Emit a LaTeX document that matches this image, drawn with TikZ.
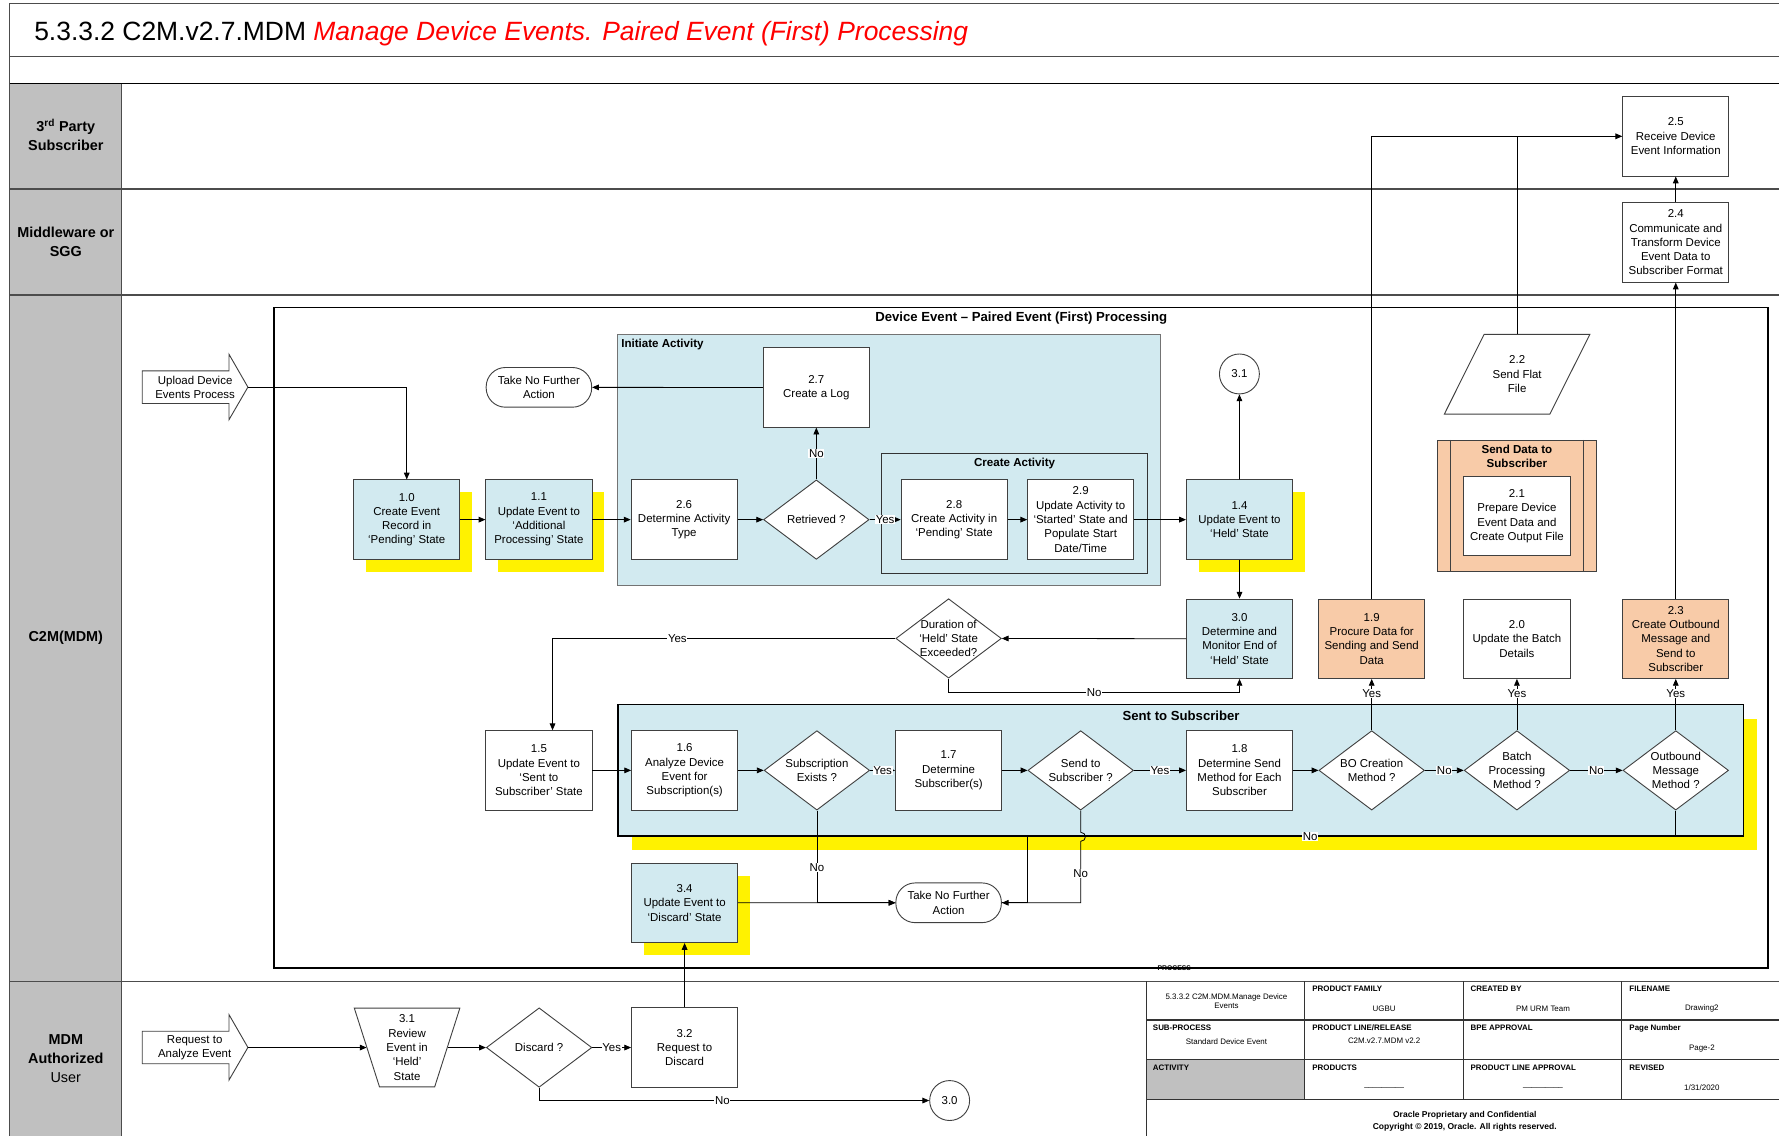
\documentclass[tikz,border=0pt]{standalone}
\usepackage{fontspec}
\setmainfont{Liberation Sans}
\usetikzlibrary{arrows.meta,shapes.geometric,shadows,calc}
\definecolor{lblue}{RGB}{210,234,240}
\definecolor{peach}{RGB}{248,203,168}
\definecolor{lanegray}{RGB}{192,192,192}
\definecolor{edge}{RGB}{64,64,64}
\newcommand\bxf{\fontsize{10.1}{12.6}\selectfont}
\newcommand\tbf{\fontsize{7}{8.6}\selectfont}
\begin{document}
\begin{tikzpicture}[x=1pt,y=-1pt,
  box/.style={draw=edge, line width=0.8pt, fill=white, minimum width=93.5pt, minimum height=70pt, align=center, inner sep=1pt, font=\bxf},
  bluebox/.style={box, fill=lblue},
  ybox/.style={bluebox, general shadow={fill=yellow, shadow xshift=11pt, shadow yshift=-11pt}},
  obox/.style={box, fill=peach},
  dia/.style={diamond, draw=edge, line width=0.8pt, fill=white, minimum width=93pt, minimum height=70pt, inner sep=0pt},
  dtext/.style={font=\bxf, align=center, inner sep=0pt},
  term/.style={draw=edge, line width=0.8pt, fill=white, rounded corners=17pt, minimum width=93pt, minimum height=35pt, align=center, font=\bxf, inner sep=1pt},
  circ/.style={circle, draw=edge, line width=0.8pt, fill=white, minimum size=35.2pt, inner sep=0pt, font=\bxf},
  arr/.style={draw=black, line width=0.7pt, -{Triangle[length=6pt,width=5pt]}},
  con/.style={draw=black, line width=0.7pt},
  lbl/.style={fill=white, inner sep=0.6pt, font=\bxf},
  grp/.style={draw, line width=0.8pt, fill=lblue, inner sep=0pt},
  gtitle/.style={font=\bfseries\fontsize{10.2}{12.4}\selectfont, inner sep=0pt},
  lane/.style={font=\bfseries\fontsize{12.7}{17}\selectfont, align=center},
  tb/.style={font=\bfseries\tbf, anchor=north west, inner sep=0pt},
  tv/.style={font=\tbf, align=center, inner sep=0pt},
  sline/.style={draw=black!70, line width=1.2pt},
]
\useasboundingbox (0,0) rectangle (1568,1001);
\fill[white] (0,0) rectangle (1568,1001);

% ---------- swimlane frame ----------
\fill[lanegray] (8.5,73.4) rectangle (107.2,1001);
\draw[draw=black!70, line width=0.9pt] (8.5,1001) -- (8.5,3.5) -- (1568,3.5);
\draw[draw=black!70, line width=0.8pt] (107.2,73.4) -- (107.2,1001);
\draw[sline] (8.5,50) -- (1568,50);
\draw[draw=black, line width=0.8pt] (8.5,73.4) -- (1568,73.4);
\draw[sline] (8.5,166.5) -- (1568,166.5);
\draw[sline] (8.5,260) -- (1568,260);
\draw[sline] (8.5,865) -- (1568,865);

\node[anchor=base west, inner sep=0pt, font=\fontsize{23.3}{28}\selectfont] (title) at (30,35.5)
  {5.3.3.2 C2M.v2.7.MDM \textcolor{red}{\itshape Manage Device Events. Paired Event (First) Processing}};

\node[lane] (l1) at (58,119) {3\textsuperscript{rd} Party\\Subscriber};
\node[lane] (l2) at (58,213) {Middleware or\\SGG};
\node[lane] (l3) at (58,562) {C2M(MDM)};
\node[lane] (l4) at (58,933) {MDM\\Authorized\\\mdseries User};

% ---------- groups ----------
\node[draw=black, line width=1.3pt, minimum width=1316.4pt, minimum height=581.8pt, inner sep=0pt] (frame) at (899.9,562.1) {};
\node[font=\bfseries\fontsize{11.6}{14}\selectfont, inner sep=0pt] (frameT) at (900.1,280.6) {Device Event – Paired Event (First) Processing};

\node[grp, draw=black!55, minimum width=477.9pt, minimum height=221.5pt] (gInit) at (783.55,405.45) {};
\node[gtitle, anchor=west] (gInitT) at (547.4,303.5) {Initiate Activity};
\node[grp, draw=black!80, minimum width=233.7pt, minimum height=105.7pt] (gCreate) at (894.15,452.45) {};
\node[gtitle] (gCreateT) at (894.3,408.4) {Create Activity};

\node[grp, line width=1.3pt, minimum width=991.8pt, minimum height=116.1pt,
      general shadow={fill=yellow, shadow xshift=12pt, shadow yshift=-12.5pt}] (gSent) at (1040.6,678.85) {};
\node[font=\bfseries\fontsize{11.6}{14}\selectfont, inner sep=0pt] (gSentT) at (1041,630.6) {Sent to Subscriber};

\node[draw=edge, line width=0.8pt, fill=peach, minimum width=140pt, minimum height=116pt, inner sep=0pt] (gSend) at (1337,446) {};
\draw[draw=edge, line width=0.8pt] ($(gSend.north west)+(12,0)$) -- ($(gSend.south west)+(12,0)$);
\draw[draw=edge, line width=0.8pt] ($(gSend.north east)+(-12,0)$) -- ($(gSend.south east)+(-12,0)$);
\node[gtitle, align=center] (gSendT) at (1337,402) {Send Data to\\Subscriber};

% ---------- start shapes ----------
\draw[draw=edge, line width=0.8pt, fill=white] (125.4,326.9) -- (201.8,326.9) -- (201.8,312.2) -- (218.5,341.2) -- (201.8,370) -- (201.8,355.6) -- (125.4,355.6) -- cycle;
\node[dtext] (upl) at (172,341.2) {Upload Device\\Events Process};
\coordinate (upltip) at (218.5,341.2);

\draw[draw=edge, line width=0.8pt, fill=white] (125.4,908.9) -- (201.8,908.9) -- (201.8,894.2) -- (218.5,923.2) -- (201.8,952) -- (201.8,937.6) -- (125.4,937.6) -- cycle;
\node[dtext] (req) at (171.6,923.2) {Request to\\Analyze Event};
\coordinate (reqtip) at (218.5,923.2);

% ---------- row 1 ----------
\node[ybox] (n10) at (358.5,458) {1.0\\Create Event\\Record in\\‘Pending’ State};
\node[ybox] (n11) at (475,458) {1.1\\Update Event to\\‘Additional\\Processing’ State};
\node[box] (n26) at (603,458) {2.6\\Determine Activity\\Type};
\node[dia] (dRet) at (719.5,458) {};
\node[dtext] (dRetT) at (dRet) {Retrieved ?};
\node[box] (n27) at (719.5,341.5) {2.7\\Create a Log};
\node[term] (tnfa1) at (475,341.4) {Take No Further\\Action};
\node[box] (n28) at (841,458) {2.8\\Create Activity in\\‘Pending’ State};
\node[box] (n29) at (952.5,458) {2.9\\Update Activity to\\‘Started’ State and\\Populate Start\\Date/Time};
\node[ybox] (n14) at (1092.5,458) {1.4\\Update Event to\\‘Held’ State};
\node[circ] (c31) at (1092.4,329.6) {3.1};

% ---------- row 2 ----------
\node[bluebox] (n30) at (1092.5,563) {3.0\\Determine and\\Monitor End of\\‘Held’ State};
\node[dia] (dDur) at (836.1,562.7) {};
\node[dtext] (dDurT) at (dDur) {Duration of\\‘Held’ State\\Exceeded?};
\node[obox] (n19) at (1209,563) {1.9\\Procure Data for\\Sending and Send\\Data};
\node[box] (n20) at (1337,563) {2.0\\Update the Batch\\Details};
\node[obox] (n23) at (1477,563) {2.3\\Create Outbound\\Message and\\Send to\\Subscriber};

\node[box] (n21) at (1337,455) {2.1\\Prepare Device\\Event Data and\\Create Output File};

\draw[draw=edge, line width=0.8pt, fill=white] (1308.1,294.7) -- (1401.3,294.7) -- (1366,365) -- (1273,365) -- cycle;
\node[dtext, minimum width=60pt, minimum height=70.3pt] (p22) at (1337.2,329.85) {2.2\\Send Flat\\File};

\node[box] (n24) at (1477,213.65) {2.4\\Communicate and\\Transform Device\\Event Data to\\Subscriber Format};
\node[box] (n25) at (1477,120.15) {2.5\\Receive Device\\Event Information};

% ---------- row 3 ----------
\node[box] (n15) at (475,679) {1.5\\Update Event to\\‘Sent to\\Subscriber’ State};
\node[box] (n16) at (603.4,679) {1.6\\Analyze Device\\Event for\\Subscription(s)};
\node[dia] (dSub) at (720,679) {};
\node[dtext] (dSubT) at (dSub) {Subscription\\Exists ?};
\node[box] (n17) at (836.1,679) {1.7\\Determine\\Subscriber(s)};
\node[dia] (dSend) at (952.5,679) {};
\node[dtext] (dSendT) at (dSend) {Send to\\Subscriber ?};
\node[box] (n18) at (1092.5,679) {1.8\\Determine Send\\Method for Each\\Subscriber};
\node[dia] (dBO) at (1209,679) {};
\node[dtext] (dBOT) at (dBO) {BO Creation\\Method ?};
\node[dia] (dBatch) at (1337,679) {};
\node[dtext] (dBatchT) at (dBatch) {Batch\\Processing\\Method ?};
\node[dia] (dOut) at (1477,679) {};
\node[dtext] (dOutT) at (dOut) {Outbound\\Message\\Method ?};

\node[ybox] (n34) at (603.4,795.75) {3.4\\Update Event to\\‘Discard’ State};
\node[term] (tnfa2) at (836.1,795.7) {Take No Further\\Action};

% ---------- bottom lane ----------
\draw[draw=edge, line width=0.8pt, fill=white] (312.3,888.6) -- (405.3,888.6) -- (383.1,958) -- (334.5,958) -- cycle;
\node[dtext, minimum width=93pt, minimum height=69.4pt] (t31) at (358.8,923.3) {3.1\\Review\\Event in\\‘Held’\\State};
\node[dia] (dDis) at (475.2,923.3) {};
\node[dtext] (dDisT) at (dDis) {Discard ?};
\node[box] (n32) at (603.4,923.3) {3.2\\Request to\\Discard};
\node[circ] (c30) at (837,970) {3.0};

% ---------- connectors ----------
\draw[arr] (upltip) -| (n10.north);
\draw[arr] (n10) -- (n11);
\draw[arr] (n11) -- (n26);
\draw[arr] (n26) -- (dRet);
\draw[arr] (dRet) -- node[lbl]{No} (n27);
\draw[arr] (n27) -- (tnfa1);
\draw[arr] (dRet) -- node[lbl]{Yes} (n28);
\draw[arr] (n28) -- (n29);
\draw[arr] (n29) -- (n14);
\draw[arr] (n14) -- (c31);
\draw[arr] (n14) -- (n30);
\draw[arr] (n30) -- (dDur);
\draw[arr] (dDur.west) -| node[lbl,pos=0.318]{Yes} ($(n15.north)+(12,0)$);
\draw[arr] (dDur.south) -- ($(dDur.south)+(0,12.3)$) -| node[lbl,pos=0.25]{No} (n30.south);
\draw[arr] (n15) -- (n16);
\draw[arr] (n16) -- (dSub);
\draw[arr] (dSub) -- node[lbl]{Yes} (n17);
\draw[arr] (dSub.south) |- node[lbl,pos=0.31]{No} (tnfa2.west);
\draw[arr] (n34) -- (tnfa2);
\draw[arr] (n17) -- (dSend);
\draw[arr] (dSend) -- node[lbl]{Yes} (n18);
\draw[con] (dOut.south) -- (dOut.south |- gSent.south) -- node[lbl,pos=0.564]{No} (dSend.west |- gSent.south) |- (tnfa2.east);
\draw[arr] (dSend.south) -- ($(dSend.south |- gSent.south)+(0,-4)$)
   .. controls ($(dSend.south |- gSent.south)+(5.5,-4)$) and ($(dSend.south |- gSent.south)+(5.5,4)$) .. ($(dSend.south |- gSent.south)+(0,4)$)
   |- node[lbl,pos=0.26]{No} (tnfa2.east);
\draw[arr] (n18) -- (dBO);
\draw[arr] (dBO) -- node[lbl]{No} (dBatch);
\draw[arr] (dBatch) -- node[lbl]{No} (dOut);
\draw[arr] (dBO.north) -- node[lbl,pos=0.72]{Yes} (n19.south);
\draw[arr] (dBatch.north) -- node[lbl,pos=0.72]{Yes} (n20.south);
\draw[arr] (dOut.north) -- node[lbl,pos=0.72]{Yes} (n23.south);
\draw[arr] (n19.north) |- (n25.west);
\draw[con] (p22.north) -- (p22.north |- n25.west);
\draw[arr] (n23) -- (n24);
\draw[arr] (n24) -- (n25);
\draw[arr] (reqtip) -- ($(t31.west)+(11,0)$);
\draw[arr] ($(t31.east)+(-11,0)$) -- (dDis);
\draw[arr] (dDis) -- node[lbl]{Yes} (n32);
\draw[arr] (dDis.south) |- node[lbl,pos=0.735]{No} (c30.west);
\draw[arr] (n32) -- (n34);

% ---------- info table ----------
\fill[lanegray] (1010.2,934.2) rectangle (1149.5,969.3);
\draw[draw=black!80, line width=1pt] (1010.2,899) -- (1568,899) (1010.2,934.2) -- (1568,934.2) (1010.2,969.3) -- (1568,969.3);
\draw[draw=black!80, line width=0.8pt] (1010.2,865) -- (1010.2,1001) (1149.5,865) -- (1149.5,969.3) (1289.5,865) -- (1289.5,969.3) (1429.4,865) -- (1429.4,969.3);
\node[font=\bfseries\fontsize{6}{7}\selectfont, inner sep=0pt] (proc) at (1035,853) {PROCESS};

\node[tv] (t1a) at (1081,882.5) {5.3.3.2 C2M.MDM.Manage Device\\Events};
\node[tb] (t1b) at (1156.5,868.5) {PRODUCT FAMILY};
\node[tv] (t1c) at (1220,889) {UGBU};
\node[tb] (t1d) at (1296,868.5) {CREATED BY};
\node[tv] (t1e) at (1360,889) {PM URM Team};
\node[tb] (t1f) at (1436,868.5) {FILENAME};
\node[tv] (t1g) at (1500,889) {Drawing2};

\node[tb] (t2a) at (1016,903) {SUB-PROCESS};
\node[tv] (t2b) at (1081,918.5) {Standard Device Event};
\node[tb] (t2c) at (1156.5,903) {PRODUCT LINE/RELEASE};
\node[tv] (t2d) at (1220,917.5) {C2M.v2.7.MDM v2.2};
\node[tb] (t2e) at (1296,903) {BPE APPROVAL};
\node[tb] (t2f) at (1436,903) {Page Number};
\node[tv] (t2g) at (1500,924.5) {Page-2};

\node[tb] (t3a) at (1016,938) {ACTIVITY};
\node[tb] (t3b) at (1156.5,938) {PRODUCTS};
\node[tv] (t3c) at (1220,958) {\_\_\_\_\_\_\_\_\_};
\node[tb] (t3d) at (1296,938) {PRODUCT LINE APPROVAL};
\node[tv] (t3e) at (1360,958) {\_\_\_\_\_\_\_\_\_};
\node[tb] (t3f) at (1436,938) {REVISED};
\node[tv] (t3g) at (1500,958.5) {1/31/2020};

\node[font=\bfseries\fontsize{7.5}{11}\selectfont, align=center, inner sep=0pt] (foot) at (1291,988.5)
  {Oracle Proprietary and Confidential\\Copyright © 2019, Oracle. All rights reserved.};
\end{tikzpicture}
\end{document}
